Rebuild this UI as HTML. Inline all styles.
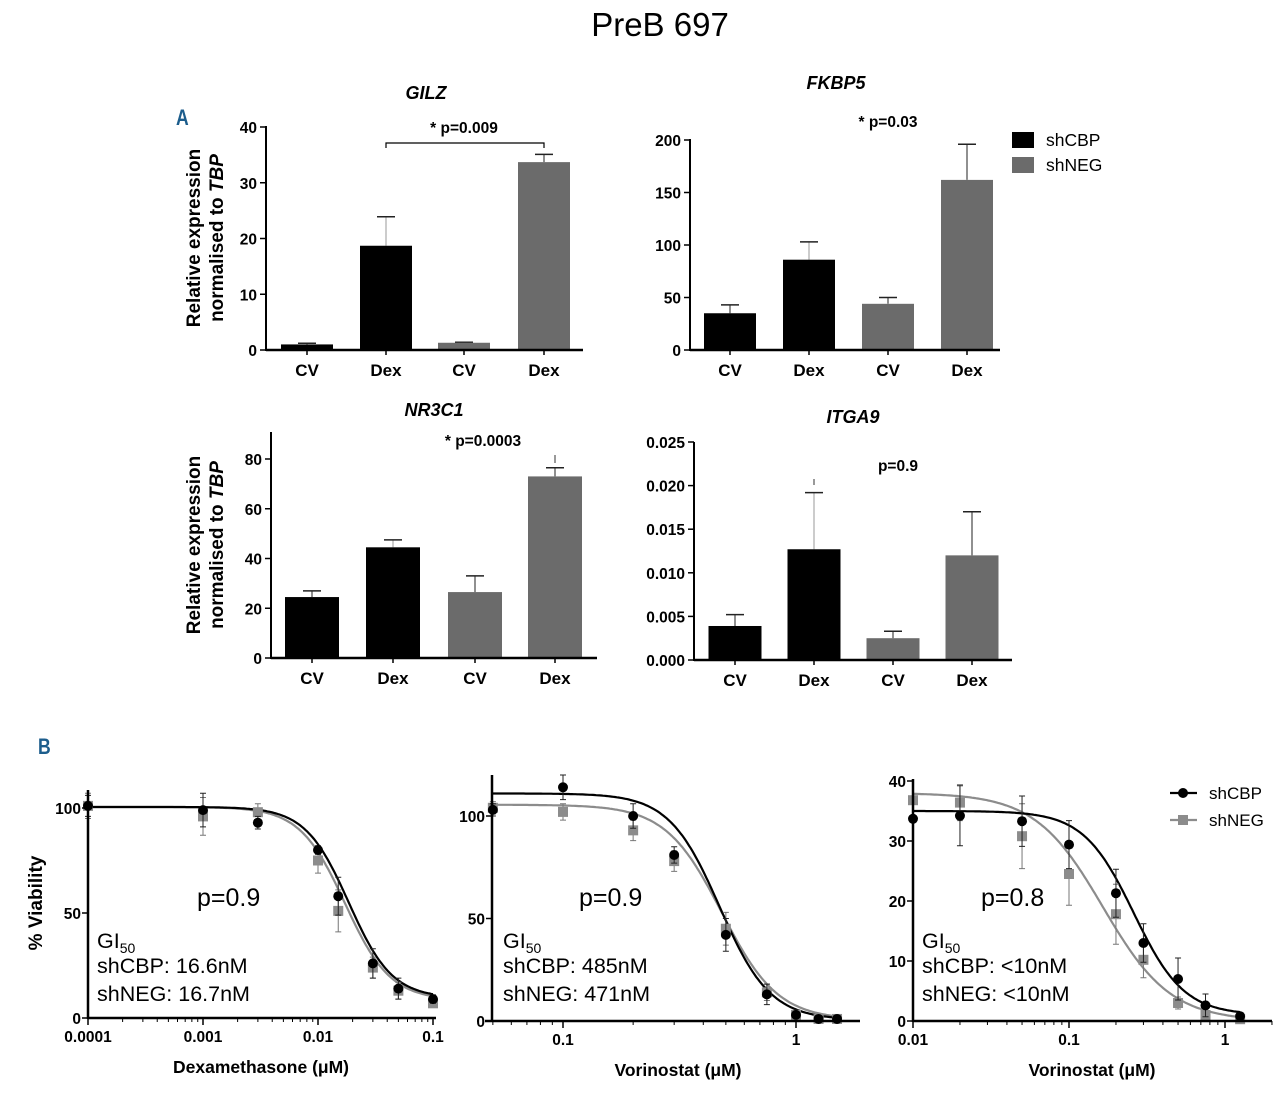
<!DOCTYPE html>
<html><head><meta charset="utf-8"><style>
html,body{margin:0;padding:0;background:#fff;}
svg{display:block;font-family:"Liberation Sans",Arial,sans-serif;}
</style></head><body>
<svg id="fig" width="1280" height="1094" viewBox="0 0 1280 1094">
<text x="660" y="36" font-size="33" text-anchor="middle">PreB 697</text>
<text x="176" y="125" font-size="22" font-weight="bold" fill="#1c5d8c" transform="translate(176,0) scale(0.8,1) translate(-176,0)">A</text>
<text x="38" y="754" font-size="22" font-weight="bold" fill="#1c5d8c" transform="translate(38,0) scale(0.8,1) translate(-38,0)">B</text>
<g id="root"></g>
</svg>
<script>
// ---------- Bar chart data ----------
const barCategories = ["CV","Dex","CV","Dex"];
const barGroups = ["shCBP","shCBP","shNEG","shNEG"];
const gilzValues = [1.0, 18.7, 1.3, 33.7];
const gilzErrors = [0.2, 5.2, 0.1, 1.4];
const fkbp5Values = [35, 86, 44, 162];
const fkbp5Errors = [8, 17, 6, 34];
const nr3c1Values = [24.5, 44.5, 26.5, 73];
const nr3c1Errors = [2.5, 3, 6.5, 3.5];
const itga9Values = [0.0039, 0.0127, 0.0025, 0.012];
const itga9Errors = [0.0013, 0.0065, 0.0008, 0.005];
const gilzTicks = [0,10,20,30,40];
const fkbp5Ticks = [0,50,100,150,200];
const nr3c1Ticks = [0,20,40,60,80];
const itga9Ticks = ["0.000","0.005","0.010","0.015","0.020","0.025"];

// ---------- Dose response data ----------
const dexDoses = [0.0001,0.001,0.003,0.01,0.015,0.03,0.05,0.1];
const dexCBP = [101,99,93,80,58,26,14,9];
const dexNEG = [101,96,98,75,51,24,13,7];
const dexCBPErr = [5,8,3,2,9,7,5,2];
const dexNEGErr = [6,9,4,6,10,5,4,2];
const vor1Doses = [0.05,0.1,0.2,0.3,0.5,0.75,1,1.25,1.5];
const vor1CBP = [103,114,100,81,42,13,3,1,1];
const vor1NEG = [104,102,93,78,45,14,3,1,1];
const vor1CBPErr = [3,6,6,4,8,5,1,1,1];
const vor1NEGErr = [3,4,5,5,8,4,1,1,1];
const vor2Doses = [0.01,0.02,0.05,0.1,0.2,0.3,0.5,0.75,1.25];
const vor2CBP = [33.7,34.2,33.3,29.4,21.3,13,7,2.6,0.8];
const vor2NEG = [36.8,36.4,30.8,24.5,17.8,10.2,3,1,0.3];
const vor2CBPErr = [0.5,5,4.2,4,4,3.2,3.5,1.9,0.5];
const vor2NEGErr = [0.5,3,5.4,5.2,5,3,1,0.8,0.3];

const NS="http://www.w3.org/2000/svg";
const root=document.getElementById('root');
function el(tag,attrs,parent,text){const e=document.createElementNS(NS,tag);for(const k in attrs)e.setAttribute(k,attrs[k]);if(text!==undefined)e.textContent=text;(parent||root).appendChild(e);return e;}
const colors={shCBP:"#000",shNEG:"#6b6b6b"};

function barChart(o){
  const g=el('g',{});
  
  
  const y=v=>o.y0-(v/o.max)*(o.y0-o.yTop);
  const centers=o.centers;
  o.values.forEach((v,i)=>{
    const c=centers[i], top=y(v), et=y(v+o.errors[i]);
    const ln=el('line',{x1:c,x2:c,y1:top,y2:et,stroke:i===1?'#999':'#222','stroke-width':1},g);
    
    
    const cap=el('line',{x1:c-9,x2:c+9,y1:et,y2:et,stroke:'#222','stroke-width':1.5},g);
    
    
    const r=el('rect',{x:c-o.bw/2,y:top,width:o.bw,height:o.y0-top,fill:colors[barGroups[i]]},g);
    
    
    const t=el('text',{x:c,y:o.y0+26,'font-size':17,'font-weight':'bold','text-anchor':'middle'},g,barCategories[i]);
    
    
    el('line',{x1:c,x2:c,y1:o.y0,y2:o.y0+5,stroke:'#000','stroke-width':1.5},g);
  });
  el('line',{x1:o.x0,x2:o.x0,y1:o.axTop,y2:o.y0+1,stroke:'#000','stroke-width':2},g);
  el('line',{x1:o.x0,x2:o.xEnd,y1:o.y0,y2:o.y0,stroke:'#000','stroke-width':2.5},g);
  o.ticks.forEach(tk=>{
    const yy=y(parseFloat(tk));
    el('line',{x1:o.x0-6,x2:o.x0,y1:yy,y2:yy,stroke:'#000','stroke-width':1.5},g);
    const t=el('text',{x:o.x0-9,y:yy+6,'font-size':15.5,'font-weight':'bold','text-anchor':'end'},g,tk);
    
    
  });
  const tt=el('text',{x:o.titleX,y:o.titleY,'font-size':18,'font-weight':'bold','font-style':'italic','text-anchor':'middle'},g,o.title);
  
  
  if(o.p){const pt=el('text',{x:o.p[0],y:o.p[1],'font-size':15.5,'font-weight':'bold','text-anchor':'middle'},g,o.p[2]);
    }
  return {g,y};
}
const a1=barChart({name:'gilz',title:'GILZ',titleX:426,titleY:99,x0:266,xEnd:583,y0:350,yTop:127,axTop:126,max:40,ticks:gilzTicks,values:gilzValues,errors:gilzErrors,centers:[307,386,464,544],bw:52,p:[464,133,'* p=0.009']});
el('path',{d:'M386,148 V143 H544 V148',fill:'none',stroke:'#000','stroke-width':1.2},a1.g);
barChart({name:'fkbp5',title:'FKBP5',titleX:836,titleY:89,x0:690,xEnd:1000,y0:350,yTop:140,axTop:139,max:200,ticks:fkbp5Ticks,values:fkbp5Values,errors:fkbp5Errors,centers:[730,809,888,967],bw:52,p:[888,127,'* p=0.03']});
const a3=barChart({name:'nr3c1',title:'NR3C1',titleX:434,titleY:416,x0:271,xEnd:597,y0:658,yTop:459,axTop:432,max:80,ticks:nr3c1Ticks,values:nr3c1Values,errors:nr3c1Errors,centers:[312,393,475,555],bw:54,p:[483,446,'* p=0.0003']});
el('line',{x1:555,x2:555,y1:455,y2:463,stroke:'#333','stroke-width':1},a3.g);
const a4=barChart({name:'itga9',title:'ITGA9',titleX:853,titleY:423,x0:694,xEnd:1012,y0:660,yTop:442,axTop:442,max:0.025,ticks:itga9Ticks,values:itga9Values,errors:itga9Errors,centers:[735,814,893,972],bw:53,p:[898,471,'p=0.9']});
el('line',{x1:814,x2:814,y1:479,y2:485,stroke:'#333','stroke-width':1},a4.g);
// y axis titles
[[205,238],[205,545]].forEach((p,i)=>{
  const t=el('text',{transform:`translate(${p[0]},${p[1]}) rotate(-90)`,'font-size':19,'font-weight':'bold','text-anchor':'middle'});
  
  
  el('tspan',{x:0,dy:-5},t,'Relative expression');
  el('tspan',{x:0,dy:23},t,'normalised to ');
  el('tspan',{'font-style':'italic'},t,'TBP');
});
// legend A
[['shCBP',132],['shNEG',157]].forEach(([n,yy])=>{
  const r=el('rect',{x:1012,y:yy,width:22,height:16,fill:colors[n]});
  
  
  const t=el('text',{x:1046,y:yy+14,'font-size':17.5},root,n);
  
  
});

// ---------- Dose response ----------
function hill(x,top,bot,ic,h){return bot+(top-bot)/(1+Math.pow(x/ic,h));}
function doseChart(o){
  const g=el('g',{});
  
  
  const X=v=>o.xRef+(Math.log10(v)-o.lRef)*o.dec;
  const Y=v=>o.y0-v/o.ymax*(o.y0-o.yTop);
  [['NEG','#8c8c8c',o.fitNEG],['CBP','#000',o.fitCBP]].forEach(([s,c,f])=>{
    let d='';for(let i=0;i<=200;i++){const lx=o.lMin+(o.lMax-o.lMin)*i/200;const v=hill(Math.pow(10,lx),f[0],f[1],f[2],f[3]);d+=(i?'L':'M')+X(Math.pow(10,lx)).toFixed(1)+','+Y(v).toFixed(1);}
    const p=el('path',{d,fill:'none',stroke:c,'stroke-width':2.2},g);
    
    
  });
  const series=[['neg',o.neg,o.negErr,'#8c8c8c'],['cbp',o.cbp,o.cbpErr,'#000']];
  series.forEach(([s,vals,errs,c])=>{
    vals.forEach((v,i)=>{
      const cx=X(o.doses[i]),cy=Y(v),e1=Y(v+errs[i]),e2=Y(Math.max(0,v-errs[i]));
      el('path',{d:`M${cx},${e1}V${e2}M${cx-3},${e1}H${cx+3}M${cx-3},${e2}H${cx+3}`,stroke:s==='neg'?'#777':'#222','stroke-width':1,fill:'none'},g);
      let m;
      if(s==='cbp'){m=el('circle',{cx,cy,r:5,fill:c},g);}
      else{m=el('rect',{x:cx-5,y:cy-5,width:10,height:10,fill:c},g);}
      
      
    });
  });
  el('line',{x1:o.x0,x2:o.x0,y1:o.axTop,y2:o.y0+1,stroke:'#000','stroke-width':2.5},g);
  el('line',{x1:o.xStart,x2:o.xEnd,y1:o.y0,y2:o.y0,stroke:'#000','stroke-width':2.5},g);
  o.yTicks.forEach(v=>{
    el('line',{x1:o.x0-6,x2:o.x0,y1:Y(v),y2:Y(v),stroke:'#000','stroke-width':1.5},g);
    const t=el('text',{x:o.x0-7,y:Y(v)+6,'font-size':15.5,'font-weight':'bold','text-anchor':'end'},g,String(v));
    
  });
  for(let d=Math.floor(o.lMin)-1;d<=Math.ceil(o.lMax)+1;d++){
    for(let k=1;k<10;k++){
      const v=k*Math.pow(10,d),xx=X(v);
      if(xx<o.x0-0.5||xx>o.xEnd)continue;
      el('line',{x1:xx,x2:xx,y1:o.y0,y2:o.y0+(k===1?7:4),stroke:'#000','stroke-width':k===1?1.5:1},g);
    }
  }
  o.xTicks.forEach(v=>{
    const t=el('text',{x:X(v),y:o.y0+24,'font-size':15.5,'font-weight':'bold','text-anchor':'middle'},g,String(v));
    
  });
  const xt=el('text',{x:o.xTitleX,y:o.y0+55,'font-size':17.5,'font-weight':'bold','text-anchor':'middle'},g,o.xTitle);
  
  const pt=el('text',{x:o.pX,y:o.pY,'font-size':25},g,o.p);
  
  const gi=el('text',{x:o.gX,y:o.gY,'font-size':21.5},g);
  
  el('tspan',{},gi,'GI');el('tspan',{'font-size':14,dy:5},gi,'50');
  const l1=el('text',{x:o.gX,y:o.gY+25,'font-size':21.5},g,o.gi[0]);
  
  const l2=el('text',{x:o.gX,y:o.gY+53,'font-size':21.5},g,o.gi[1]);
  
}
doseChart({name:'dexamethasone',x0:88,xStart:88,xEnd:436,xRef:88,lRef:-4,dec:115,lMin:-4,lMax:-1,y0:1018,yTop:808,axTop:790,ymax:100,yTicks:[0,50,100],
  doses:dexDoses,cbp:dexCBP,neg:dexNEG,cbpErr:dexCBPErr,negErr:dexNEGErr,fitCBP:[100.5,9.5,0.0185,2.3],fitNEG:[100.5,8.5,0.0172,2.2],
  xTicks:[0.0001,0.001,0.01,0.1],xTitle:'Dexamethasone (\u03bcM)',xTitleX:261,p:'p=0.9',pX:197,pY:906,gX:97,gY:948,gi:['shCBP: 16.6nM','shNEG: 16.7nM']});
doseChart({name:'vorinostat-1',x0:492,xStart:485,xEnd:860,xRef:563,lRef:-1,dec:233,lMin:Math.log10(0.05),lMax:Math.log10(1.5),y0:1021,yTop:816,axTop:775,ymax:100,yTicks:[0,50,100],
  doses:vor1Doses,cbp:vor1CBP,neg:vor1NEG,cbpErr:vor1CBPErr,negErr:vor1NEGErr,fitCBP:[111,0.5,0.47,4.0],fitNEG:[105.5,0.5,0.48,3.6],
  xTicks:[0.1,1],xTitle:'Vorinostat (\u03bcM)',xTitleX:678,p:'p=0.9',pX:579,pY:906,gX:503,gY:948,gi:['shCBP: 485nM','shNEG: 471nM']});
doseChart({name:'vorinostat-2',x0:913,xStart:913,xEnd:1272,xRef:913,lRef:-2,dec:156,lMin:-2,lMax:Math.log10(1.25),y0:1021,yTop:781,axTop:779,ymax:40,yTicks:[0,10,20,30,40],
  doses:vor2Doses,cbp:vor2CBP,neg:vor2NEG,cbpErr:vor2CBPErr,negErr:vor2NEGErr,fitCBP:[35,1.0,0.26,2.7],fitNEG:[38,0,0.165,2.0],
  xTicks:[0.01,0.1,1],xTitle:'Vorinostat (\u03bcM)',xTitleX:1092,p:'p=0.8',pX:981,pY:906,gX:922,gY:948,gi:['shCBP: <10nM','shNEG: <10nM']});
const vt=el('text',{transform:'translate(42,903) rotate(-90)','font-size':19,'font-weight':'bold','text-anchor':'middle'},root,'% Viability');


[['shCBP',793,'#000','c'],['shNEG',820,'#8c8c8c','s']].forEach(([n,yy,c,m])=>{
  el('line',{x1:1170,x2:1197,y1:yy,y2:yy,stroke:c,'stroke-width':2.2});
  const mk=m==='c'?el('circle',{cx:1183,cy:yy,r:5,fill:c}):el('rect',{x:1178,y:yy-5,width:10,height:10,fill:c});
  
  
  const t=el('text',{x:1209,y:yy+6,'font-size':17},root,n);
  
  
});
</script>
</body></html>
